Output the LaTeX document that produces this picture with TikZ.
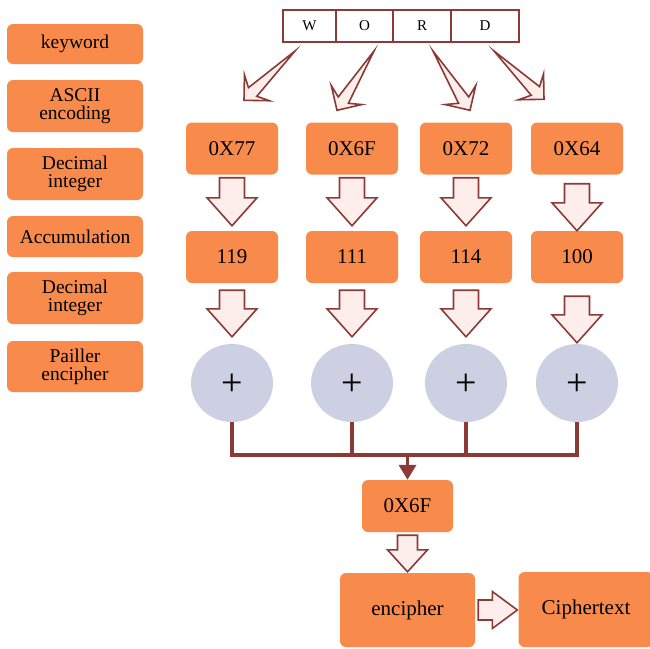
\documentclass[tikz,border=0pt]{standalone}
\usepackage{fontspec}
\setmainfont{Liberation Serif}
\usetikzlibrary{arrows.meta,calc,shapes.geometric}

\definecolor{boxorange}{RGB}{248,139,76}
\definecolor{arrowred}{RGB}{139,58,54}
\definecolor{arrowfill}{RGB}{253,238,236}
\definecolor{sumgrey}{RGB}{205,207,226}

% tapered arrow from a point (#1) to a tip (#2)
\newcommand{\slimarrow}[2]{%
  \path ($(#2)!12pt!(#1)$) coordinate (sa-n) ($(#2)!18pt!(#1)$) coordinate (sa-w);
  \draw[blk] (#1) -- ($(sa-n)!6pt!90:(#2)$) -- ($(sa-w)!18pt!90:(#2)$) -- (#2)
    -- ($(sa-w)!18pt!-90:(#2)$) -- ($(sa-n)!6pt!-90:(#2)$) -- cycle;}
% block arrows: from, to, shaft half width, head half width, head length
\newcommand{\blockdown}[5]{%
  \draw[blk] let \p1=(#1), \p2=(#2) in
    (\x1-#3,\y1) -- (\x1+#3,\y1) -- (\x1+#3,\y2+#5) -- (\x1+#4,\y2+#5) -- (\x1,\y2)
    -- (\x1-#4,\y2+#5) -- (\x1-#3,\y2+#5) -- cycle;}
\newcommand{\blockright}[5]{%
  \draw[blk] let \p1=(#1), \p2=(#2) in
    (\x1,\y1+#3) -- (\x2-#5,\y1+#3) -- (\x2-#5,\y1+#4) -- (\x2,\y1) -- (\x2-#5,\y1-#4)
    -- (\x2-#5,\y1-#3) -- (\x1,\y1-#3) -- cycle;}
\newcommand{\plussign}{\raisebox{-12.5pt}[0pt][0pt]{+}}

\begin{document}
\begin{tikzpicture}[x=1pt,y=-1pt,
    stage/.style={fill=boxorange,rounded corners=6pt,minimum width=136pt,inner sep=0pt,align=center,font=\fontsize{19.5}{18}\selectfont},
    val/.style={fill=boxorange,rounded corners=6pt,minimum width=92pt,minimum height=52pt,inner sep=0pt,font=\fontsize{21}{22}\selectfont},
    cell/.style={draw=arrowred,line width=2pt,minimum height=32pt,inner sep=0pt,font=\fontsize{15}{15}\selectfont},
    sum/.style={ellipse,fill=sumgrey,minimum width=82pt,minimum height=78pt,inner sep=0pt,font=\fontsize{38}{38}\selectfont},
    blk/.style={draw=arrowred,fill=arrowfill,line width=1.6pt,line join=miter},
    bus/.style={draw=arrowred,line width=3.5pt}]
  \clip (0,0) rectangle (650,648);

  % stages on the left
  \node[stage,minimum height=40pt] (keyword) at (75,44) {keyword};
  \node[stage,minimum height=52pt] (ascii) at (75,106) {ASCII\\encoding};
  \node[stage,minimum height=52pt] (decimal) at (75,174) {Decimal\\integer};
  \node[stage,minimum height=41pt] (accum) at (75,236.5) {Accumulation};
  \node[stage,minimum height=52pt] (decimalb) at (75,298) {Decimal\\integer};
  \node[stage,minimum height=51pt] (pailler) at (75,366.5) {Pailler\\encipher};

  % the keyword
  \node[cell,minimum width=53pt] (cw) at (309.5,26) {W};
  \node[cell,minimum width=57pt] (co) at (364.5,26) {O};
  \node[cell,minimum width=58pt] (cr) at (422,26) {R};
  \node[cell,minimum width=68pt] (cd) at (485,26) {D};

  \node[val] (hexa) at (232,148.5) {0X77};
  \node[val] (hexb) at (352,148.5) {0X6F};
  \node[val] (hexc) at (466,148.5) {0X72};
  \node[val] (hexd) at (577,148.5) {0X64};

  \node[val] (deca) at (232,257) {119};
  \node[val] (decb) at (352,257) {111};
  \node[val] (decc) at (466,257) {114};
  \node[val] (decd) at (577,257) {100};

  \node[sum] (suma) at (232,383) {\plussign};
  \node[sum] (sumb) at (352,383) {\plussign};
  \node[sum] (sumc) at (466,383) {\plussign};
  \node[sum] (sumd) at (577,383) {\plussign};

  \node[val,minimum width=91pt] (total) at (407.5,506) {0X6F};
  \node[val,minimum width=135pt,minimum height=74pt] (enc) at (407.5,610) {encipher};
  \node[val,minimum width=135pt,minimum height=75pt] (cipher) at (586,609.5) {Ciphertext};

  % letters to ASCII
  \coordinate (ta) at (295,51);
  \coordinate (tb) at (374,51);
  \coordinate (tc) at (433,51);
  \coordinate (td) at (494,51);
  \slimarrow{ta}{$(hexa.north)+(12,-22)$}
  \slimarrow{tb}{$(hexb.north)+(-15,-12)$}
  \slimarrow{tc}{$(hexc.north)+(4,-12)$}
  \slimarrow{td}{$(hexd.north)+(-33,-23)$}

  \blockdown{$(hexa.south)+(0,3)$}{$(deca.north)+(0,-5)$}{12.5pt}{25pt}{28pt}
  \blockdown{$(hexb.south)+(0,3)$}{$(decb.north)+(0,-5)$}{12.5pt}{25pt}{28pt}
  \blockdown{$(hexc.south)+(0,3)$}{$(decc.north)+(0,-5)$}{12.5pt}{25pt}{28pt}
  \blockdown{$(hexd.south)+(0,9)$}{$(decd.north)+(0,0)$}{12.5pt}{25pt}{28pt}

  \blockdown{$(deca.south)+(0,7)$}{$(suma.north)+(0,-7)$}{12.5pt}{25pt}{28pt}
  \blockdown{$(decb.south)+(0,7)$}{$(sumb.north)+(0,-7)$}{12.5pt}{25pt}{28pt}
  \blockdown{$(decc.south)+(0,7)$}{$(sumc.north)+(0,-7)$}{12.5pt}{25pt}{28pt}
  \blockdown{$(decd.south)+(0,13)$}{$(sumd.north)+(0,-1)$}{12.5pt}{25pt}{28pt}

  % accumulate
  \coordinate (jn) at (407.5,455);
  \draw[bus] (suma.south) -- (suma.south |- jn) -| (sumd.south);
  \draw[bus] (sumb.south) -- (sumb.south |- jn);
  \draw[bus] (sumc.south) -- (sumc.south |- jn);
  \draw[bus,-{Triangle[length=15pt,width=17pt]}] (jn) -- (total.north);

  \blockdown{$(total.south)+(0,3)$}{$(enc.north)+(0,-1)$}{10pt}{20pt}{22pt}
  \blockright{$(enc.east)+(3,0)$}{$(cipher.west)+(-1,0)$}{10pt}{18.5pt}{25pt}
\end{tikzpicture}
\end{document}
